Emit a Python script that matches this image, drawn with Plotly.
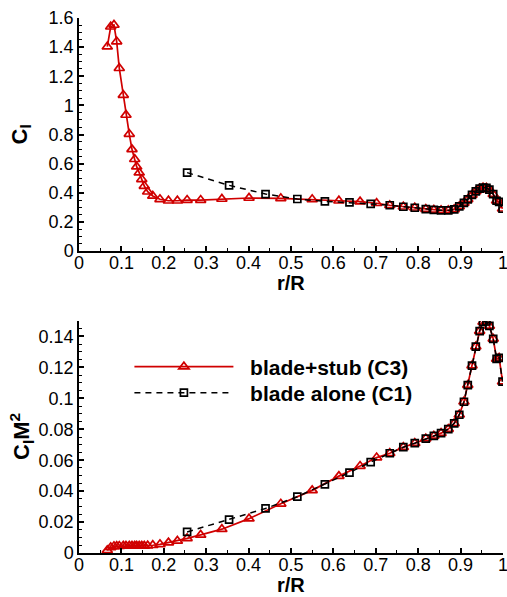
import plotly.graph_objects as go

# ---- data ----
# blade+stub (C3): r/R, Cl, Cl*M^2
red_r = [0.0667, 0.0748, 0.0825, 0.0889, 0.0950, 0.1045, 0.1108, 0.1186, 0.1250, 0.1314,
         0.1360, 0.1420, 0.1480, 0.1540, 0.1620, 0.1740, 0.1910, 0.2110, 0.2320, 0.2550,
         0.2870, 0.3370, 0.4010, 0.4760, 0.5500, 0.6130, 0.6630, 0.7020,
         0.733, 0.765, 0.792, 0.818, 0.837, 0.854, 0.871, 0.885, 0.897, 0.908, 0.917,
         0.927, 0.936, 0.945, 0.953, 0.961, 0.968, 0.977, 0.985, 0.991, 0.999]
red_cl = [1.403, 1.540, 1.552, 1.438, 1.255, 1.071, 0.934, 0.803, 0.698, 0.630,
          0.579, 0.538, 0.492, 0.446, 0.407, 0.378, 0.355, 0.345, 0.345, 0.350,
          0.350, 0.357, 0.364, 0.362, 0.355, 0.345, 0.339, 0.328,
          0.314, 0.304, 0.297, 0.288, 0.282, 0.279, 0.279, 0.286, 0.306, 0.330, 0.355,
          0.385, 0.410, 0.428, 0.435, 0.433, 0.422, 0.390, 0.345, 0.338, 0.290]
red_clm2 = [0.0017, 0.0036, 0.0043, 0.0044, 0.0045, 0.0046, 0.0046, 0.0046, 0.0046, 0.0046,
            0.0046, 0.0046, 0.0046, 0.0046, 0.0047, 0.0050, 0.0056, 0.0067, 0.0078, 0.0095,
            0.0117, 0.0154, 0.0222, 0.0318, 0.0405, 0.0497, 0.0562, 0.0617,
            0.0645, 0.0684, 0.0710, 0.0740, 0.0757, 0.0775, 0.0801, 0.0838, 0.0894, 0.0978, 0.1086,
            0.1212, 0.1335, 0.1435, 0.1494, 0.1497, 0.1468, 0.1385, 0.1255, 0.1262, 0.1108]

# blade alone (C1)
blk_r = [0.255, 0.354, 0.440, 0.515, 0.580, 0.638, 0.688,
         0.733, 0.765, 0.792, 0.818, 0.837, 0.854, 0.871, 0.885, 0.897, 0.908, 0.917,
         0.927, 0.936, 0.945, 0.953, 0.961, 0.968, 0.977, 0.985, 0.991, 0.999]
blk_cl = [0.538, 0.451, 0.391, 0.357, 0.341, 0.334, 0.323,
          0.314, 0.304, 0.297, 0.288, 0.282, 0.279, 0.279, 0.286, 0.306, 0.330, 0.355,
          0.385, 0.410, 0.428, 0.435, 0.433, 0.422, 0.390, 0.345, 0.338, 0.290]
blk_clm2 = [0.0136, 0.0216, 0.0288, 0.0364, 0.0444, 0.0520, 0.0588,
            0.0645, 0.0684, 0.0710, 0.0740, 0.0757, 0.0775, 0.0801, 0.0838, 0.0894, 0.0978, 0.1086,
            0.1212, 0.1335, 0.1435, 0.1494, 0.1497, 0.1468, 0.1385, 0.1255, 0.1262, 0.1108]

names = ["blade+stub (C3)", "blade alone (C1)"]
x_title = "r/R"
y_titles = ["C<sub>l</sub>", "C<sub>l</sub>M<sup>2</sup>"]

RED = "#d00000"
FONT = "Liberation Sans, Arial, sans-serif"
NB = "\u00a0\u00a0"

fig = go.Figure()

red_style = dict(mode="lines+markers",
                 line=dict(color=RED, width=1.7),
                 marker=dict(symbol="triangle-up-open", size=9, color=RED,
                             line=dict(color=RED, width=1.7)))
blk_style = dict(mode="lines+markers",
                 line=dict(color="black", width=1.5, dash="6px,5px"),
                 marker=dict(symbol="square-open", size=7, color="black",
                             line=dict(color="black", width=1.7)))

fig.add_trace(go.Scatter(x=red_r, y=red_cl, xaxis="x", yaxis="y", showlegend=False, **red_style))
fig.add_trace(go.Scatter(x=blk_r, y=blk_cl, xaxis="x", yaxis="y", showlegend=False, **blk_style))
fig.add_trace(go.Scatter(x=red_r, y=red_clm2, xaxis="x2", yaxis="y2", name=NB + names[0],
                         legend="legend", **red_style))
fig.add_trace(go.Scatter(x=blk_r, y=blk_clm2, xaxis="x2", yaxis="y2", name=NB + names[1],
                         legend="legend2", **blk_style))

axis_common = dict(showline=True, linecolor="black", linewidth=1.5, mirror=False,
                   showgrid=False, zeroline=False, ticks="inside", ticklen=5,
                   tickwidth=1.5, tickcolor="black", ticklabeloverflow="allow",
                   tickfont=dict(family=FONT, size=18, color="black"))

xax = dict(axis_common, range=[0, 1.0001], tick0=0, dtick=0.1, ticklabelstandoff=-5,
           minor=dict(ticks="inside", ticklen=3, dtick=0.05, tickwidth=1.2, tickcolor="black"))

leg_common = dict(xanchor="left", yanchor="middle", bgcolor="rgba(0,0,0,0)", itemwidth=99,
                  font=dict(family=FONT, size=21, color="black", weight="bold"))

title_font = dict(family=FONT, size=20, color="black")
ytitle_font = dict(family=FONT, size=22, color="black")

fig.update_layout(
    width=507, height=597,
    margin=dict(l=79, r=4, t=18, b=44, autoexpand=False),
    paper_bgcolor="white", plot_bgcolor="white",
    font=dict(family=FONT, color="black"),
    xaxis=dict(xax, domain=[0, 1], anchor="y"),
    yaxis=dict(axis_common, domain=[0.5645, 1], range=[0, 1.6001], dtick=0.2,
               minor=dict(ticks="inside", ticklen=3, dtick=0.05, tickwidth=1.2, tickcolor="black")),
    xaxis2=dict(xax, domain=[0, 1], anchor="y2"),
    yaxis2=dict(axis_common, domain=[0, 0.4336], range=[0, 0.15], dtick=0.02,
                minor=dict(ticks="inside", ticklen=3, dtick=0.005, tickwidth=1.2, tickcolor="black")),
    legend=dict(leg_common, x=0.1189, y=0.3477),
    legend2=dict(leg_common, x=0.1189, y=0.2991),
    annotations=[
        dict(text="<b>" + x_title + "</b>", xref="x domain", yref="y domain", x=0.5, y=0,
             yshift=-32, xanchor="center", yanchor="middle", showarrow=False, font=title_font),
        dict(text="<b>" + x_title + "</b>", xref="x2 domain", yref="y2 domain", x=0.5, y=0,
             yshift=-32, xanchor="center", yanchor="middle", showarrow=False, font=title_font),
        dict(text="<b>" + y_titles[0] + "</b>", xref="paper", yref="y domain", x=0, y=0.5,
             xshift=-58, xanchor="center", yanchor="middle", textangle=-90, showarrow=False,
             font=ytitle_font),
        dict(text="<b>" + y_titles[1] + "</b>", xref="paper", yref="y2 domain", x=0, y=0.5,
             xshift=-58, xanchor="center", yanchor="middle", textangle=-90, showarrow=False,
             font=ytitle_font),
    ],
)

fig.write_html("out.html")
